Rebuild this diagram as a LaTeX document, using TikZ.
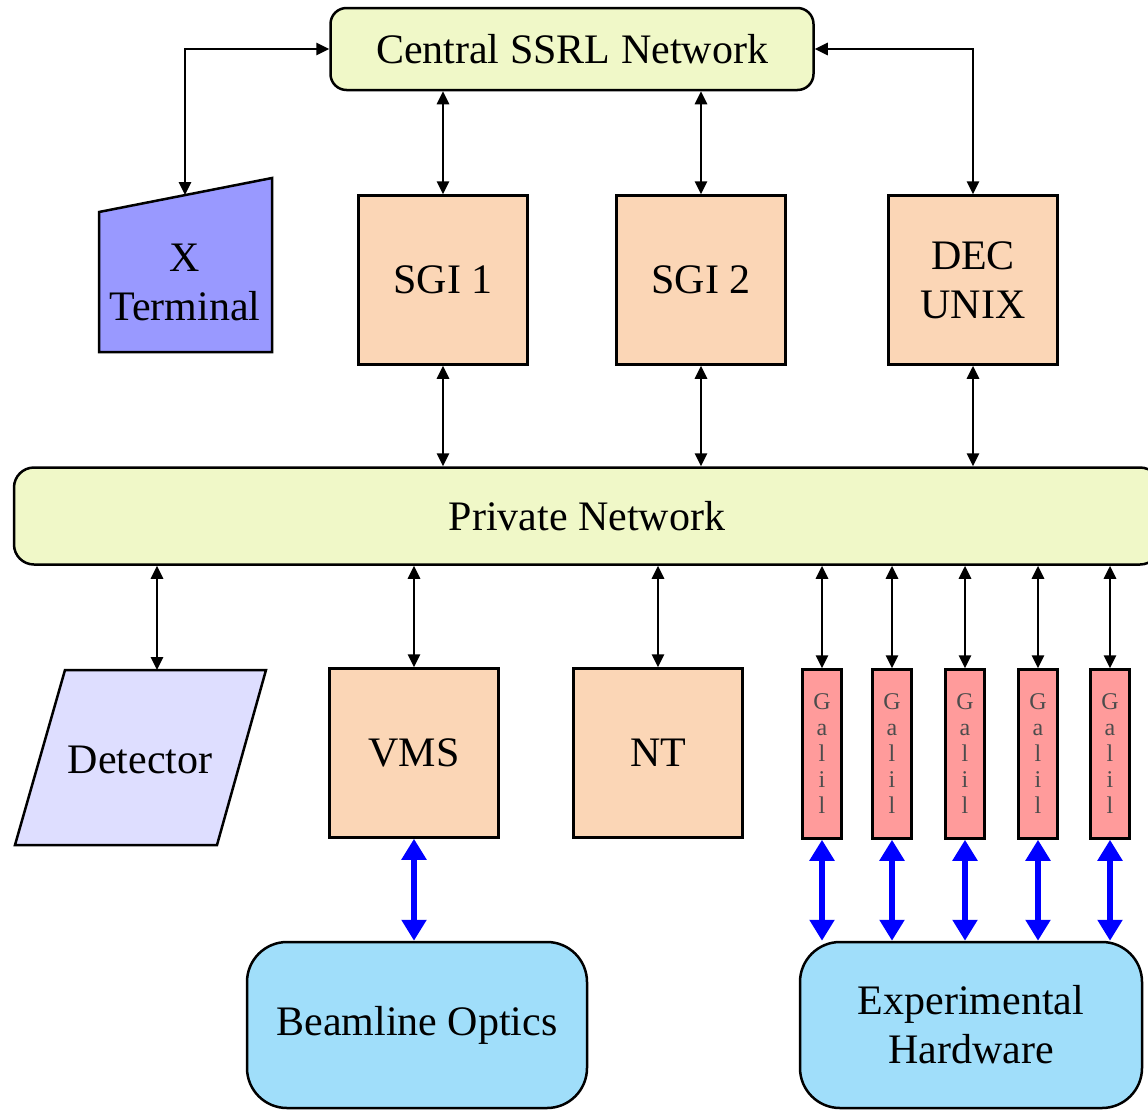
\documentclass[tikz,border=0pt]{standalone}
\usepackage{fontspec}
\setmainfont{Liberation Serif}
\usetikzlibrary{arrows.meta}
\definecolor{netgreen}{RGB}{240,248,200}
\definecolor{peach}{RGB}{251,214,182}
\definecolor{xblue}{RGB}{153,153,255}
\definecolor{detblue}{RGB}{222,222,255}
\definecolor{galilred}{RGB}{255,155,155}
\definecolor{devblue}{RGB}{160,222,250}
\tikzset{
  big/.style={font=\fontsize{42}{49}\selectfont, align=center},
  net/.style={big, draw, line width=2.5pt, fill=netgreen, rounded corners=16pt},
  pc/.style={big, draw, line width=2.5pt, fill=peach, minimum width=169pt, minimum height=169pt},
  galil/.style={draw, line width=2.5pt, fill=galilred, minimum width=39pt, minimum height=169pt,
    inner sep=0pt, align=center, text=black!70, font=\fontsize{24}{26}\selectfont},
  dev/.style={big, draw, line width=2.5pt, fill=devblue, rounded corners=40pt, minimum height=166pt},
  link/.style={line width=2.8pt, {Triangle[length=13pt,width=12pt]}-{Triangle[length=13pt,width=12pt]}},
  bluelink/.style={line width=6pt, blue, {Triangle[length=21pt,width=24pt]}-{Triangle[length=21pt,width=24pt]}}
}
\begin{document}
\begin{tikzpicture}[x=1pt, y=-1pt]
  \useasboundingbox (0,0) rectangle (1148,1109);
  \clip (0,0) rectangle (1148,1109);
  % networks
  \node[net, minimum width=483pt, minimum height=82pt] (central) at (572,49) {Central SSRL Network};
  \node[net, rounded corners=20pt, minimum width=1146pt, minimum height=97pt] (priv) at (587,516) {Private Network};
  % computers
  \draw[line width=2.5pt, fill=xblue] (99,212) -- (272,178) -- (272,352) -- (99,352) -- cycle;
  \node[big] (xterm) at (185,282) {X\\Terminal};
  \coordinate (xtop) at (185,195);
  \node[pc] (sgi1) at (443,280) {SGI 1};
  \node[pc] (sgi2) at (701,280) {SGI 2};
  \node[pc] (dec) at (973,280) {DEC\\UNIX};
  \draw[line width=2.5pt, fill=detblue] (65,670) -- (266,670) -- (217,845) -- (15,845) -- cycle;
  \node[big] (det) at (140,760) {Detector};
  \coordinate (dettop) at (157,670);
  \node[pc] (vms) at (414,753) {VMS};
  \node[pc] (nt) at (658,753) {NT};
  % hardware
  \node[dev, minimum width=340pt] (optics) at (417,1025) {Beamline Optics};
  \node[dev, minimum width=342pt] (hw) at (971,1025) {Experimental\\Hardware};
  % links
  \draw[link] (xtop) |- (central.west);
  \draw[link] (sgi1.north) -- (central.south -| sgi1.north);
  \draw[link] (sgi2.north) -- (central.south -| sgi2.north);
  \draw[link] (central.east) -| (dec.north);
  \draw[link] (sgi1.south) -- (priv.north -| sgi1.south);
  \draw[link] (sgi2.south) -- (priv.north -| sgi2.south);
  \draw[link] (dec.south) -- (priv.north -| dec.south);
  \draw[link] (priv.south -| dettop) -- (dettop);
  \draw[link] (priv.south -| vms.north) -- (vms.north);
  \draw[link] (priv.south -| nt.north) -- (nt.north);
  \draw[bluelink] (vms.south) -- (optics.north -| vms.south);
  \foreach \x [count=\i] in {822,892,965,1038,1110} {
    \node[galil] (g\i) at (\x,754) {G\\a\\l\\i\\l};
    \draw[link] (priv.south -| g\i.north) -- (g\i.north);
    \draw[bluelink] (g\i.south) -- (hw.north -| g\i.south);
  }
\end{tikzpicture}
\end{document}
